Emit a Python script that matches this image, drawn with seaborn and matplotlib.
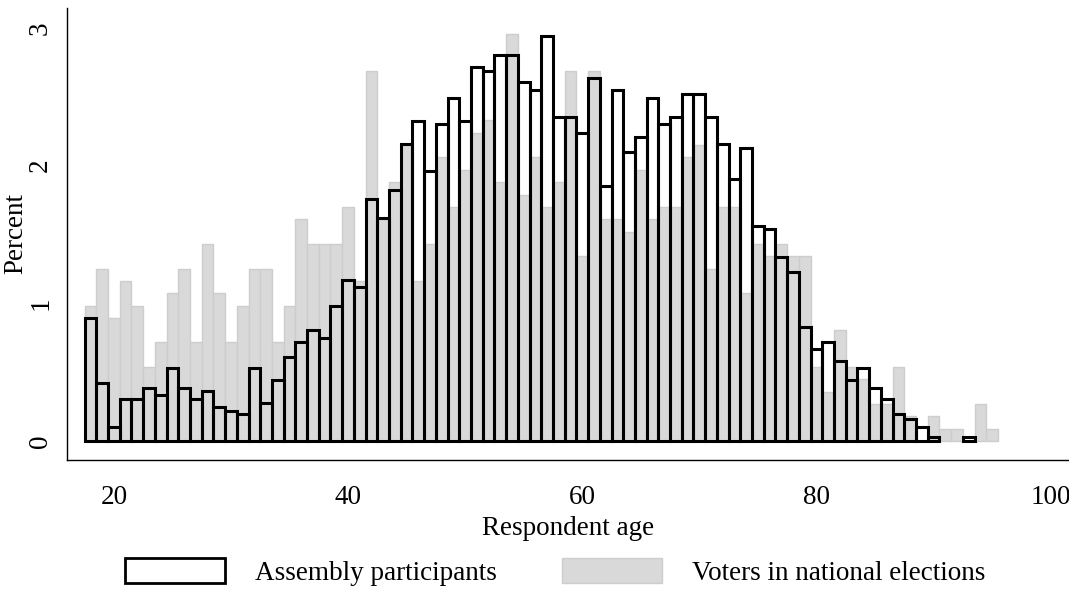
import numpy as np
import pandas as pd
import matplotlib
matplotlib.use("Agg")
import matplotlib.pyplot as plt
from matplotlib.patches import Patch
import seaborn as sns

ages = list(range(18, 96))

voters = [
    0.98, 1.25, 0.895, 1.164, 0.98, 0.54, 0.717, 1.075, 1.25, 0.717,    # 18-27
    1.43, 1.075, 0.717, 0.98, 1.25, 1.25, 0.717, 0.98, 1.61, 1.43,      # 28-37
    1.43, 1.43, 1.70, 1.164, 2.685, 1.61, 1.88, 2.15, 1.164, 1.43,      # 38-47
    2.06, 1.70, 1.97, 2.24, 2.33, 1.88, 2.954, 1.79, 2.06, 1.70,        # 48-57
    1.88, 2.685, 1.343, 2.685, 1.61, 1.61, 1.52, 1.97, 1.61, 1.70,      # 58-67
    1.70, 2.06, 2.15, 1.25, 1.70, 1.70, 1.075, 1.43, 1.343, 1.43,       # 68-77
    1.343, 1.343, 0.54, 0.358, 0.805, 0.54, 0.4475, 0.269, 0.269, 0.54, # 78-87
    0.179, 0.0, 0.179, 0.09, 0.09, 0.0, 0.269, 0.09,                    # 88-95
]

assembly = [
    0.891, 0.419, 0.104, 0.305, 0.305, 0.387, 0.334, 0.528, 0.387, 0.305,  # 18-27
    0.363, 0.249, 0.218, 0.194, 0.528, 0.274, 0.443, 0.608, 0.721, 0.806,  # 28-37
    0.75, 0.98, 1.169, 1.121, 1.757, 1.617, 1.823, 2.155, 2.326, 1.961,    # 38-47
    2.30, 2.493, 2.326, 2.714, 2.689, 2.805, 2.805, 2.605, 2.549, 2.941,   # 48-57
    2.355, 2.355, 2.239, 2.634, 1.854, 2.549, 2.097, 2.21, 2.489, 2.30,    # 58-67
    2.355, 2.52, 2.52, 2.355, 2.157, 1.903, 2.126, 1.561, 1.537, 1.339,    # 68-77
    1.225, 0.83, 0.668, 0.721, 0.583, 0.443, 0.528, 0.383, 0.303, 0.194,   # 78-87
    0.16, 0.104, 0.028, 0.0, 0.0, 0.028, 0.0, 0.0,                         # 88-95
]

x_ticks = [20, 40, 60, 80, 100]
y_ticks = [0, 1, 2, 3]
legend_labels = ["Assembly participants", "Voters in national elections"]

sns.set_style("white")
plt.rcParams["font.family"] = ["Liberation Serif", "DejaVu Serif"]
plt.rcParams["text.color"] = "black"
plt.rcParams["axes.labelcolor"] = "black"
plt.rcParams["xtick.color"] = "black"
plt.rcParams["ytick.color"] = "black"

df = pd.DataFrame({"age": ages, "voters": voters, "assembly": assembly})

fig = plt.figure(figsize=(10.69, 6.01), dpi=100)
ax = fig.add_axes([67 / 1069, 1 - 460 / 601, 1 - 67 / 1069, (460 - 8) / 601])

GRAY = "#d9d9d9"
sns.histplot(data=df, x="age", weights="voters", discrete=True, ax=ax,
             color=GRAY, edgecolor="#cdcdcd", linewidth=1.0, alpha=1.0)
sns.histplot(data=df, x="age", weights="assembly", discrete=True, ax=ax,
             fill=False, color="black", linewidth=2.2)

for p in ax.patches:
    if p.get_height() <= 0:
        p.set_visible(False)

ax.set_xlim(16, 16 + (1069 - 67) / 11.71)
ax.set_ylim(-(460 - 441) / 137.7, (441 - 8) / 137.7)
ax.set_xticks(x_ticks)
ax.set_yticks(y_ticks)
ax.set_xlabel("Respondent age", fontsize=19.5, labelpad=4)
ax.set_ylabel("Percent", fontsize=19.5)
ax.yaxis.set_label_coords(-0.039, 0.5)
ax.tick_params(axis="both", which="major", labelsize=19.5, length=12,
               width=1.0, color="black", labelcolor="black",
               direction="out", pad=6)
ax.tick_params(axis="y", labelrotation=90, pad=-2)
for lab in ax.get_yticklabels():
    lab.set_va("center")

sns.despine(ax=ax, top=True, right=True)
for s in ["left", "bottom"]:
    ax.spines[s].set_color("black")
    ax.spines[s].set_linewidth(1.0)
ax.grid(False)

handles = [
    Patch(facecolor="white", edgecolor="black", linewidth=2.0),
    Patch(facecolor=GRAY, edgecolor="#cdcdcd", linewidth=1.0),
]
fig.legend(handles, legend_labels, loc="center", ncol=2,
           bbox_to_anchor=(555 / 1069, 1 - 572 / 601), frameon=False,
           fontsize=19.5, handlelength=3.7, handleheight=1.0,
           handletextpad=1.1, columnspacing=2.4)

fig.savefig("out.png", dpi=100)
